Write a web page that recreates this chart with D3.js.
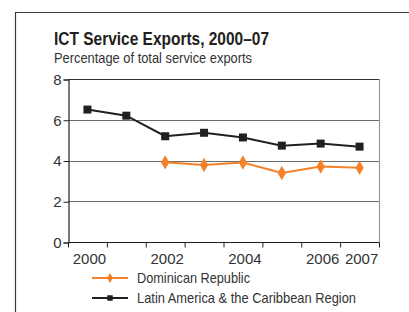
<!DOCTYPE html>
<html>
<head>
<meta charset="utf-8">
<script src="https://cdn.jsdelivr.net/npm/d3@7"></script>
<style>
  body { margin: 0; background: #fff; }
  svg { display: block; }
  text { font-family: "Liberation Sans Narrow", "Liberation Sans", sans-serif; fill: #231f20; }
</style>
</head>
<body>
<div id="chart"></div>
<script>
// data
const years = ['2000', '2001', '2002', '2003', '2004', '2005', '2006', '2007'];
const shownYears = ['2000', '2002', '2004', '2006', '2007'];
const dominican = [null, null, 3.91, 3.78, 3.9, 3.39, 3.7, 3.64];
const latinAmerica = [6.5, 6.2, 5.19, 5.36, 5.13, 4.73, 4.83, 4.68];
const yTicks = [0, 2, 4, 6, 8];

const width = 409, height = 312;
const plotL = 68, plotR = 379, plotT = 79, plotB = 242;
const orange = '#f5822a', black = '#231f20';

const svg = d3.select('#chart').append('svg')
  .attr('width', width)
  .attr('height', height);

// frame
svg.append('path')
  .attr('d', `M15.5,${height + 2}V12.5H${width + 2}`)
  .attr('fill', 'none')
  .attr('stroke', '#3a3a3a')
  .attr('stroke-width', 1.2);

svg.append('text')
  .attr('x', 54).attr('y', 45)
  .attr('font-size', 18).attr('font-weight', 'bold')
  .attr('textLength', 215).attr('lengthAdjust', 'spacingAndGlyphs')
  .text('ICT Service Exports, 2000–07');

svg.append('text')
  .attr('x', 54).attr('y', 63)
  .attr('font-size', 15)
  .attr('textLength', 198).attr('lengthAdjust', 'spacingAndGlyphs')
  .style('fill', '#333')
  .text('Percentage of total service exports');

const x = d3.scaleBand().domain(years).range([plotL, plotR]);
const y = d3.scaleLinear().domain([0, 8]).range([plotB, plotT]);
const cx = d => x(d) + x.bandwidth() / 2;

// grid
svg.append('g')
  .selectAll('line')
  .data(yTicks.filter(d => d > 0))
  .join('line')
    .attr('x1', plotL).attr('x2', plotR)
    .attr('y1', d => Math.round(y(d)) + 0.5).attr('y2', d => Math.round(y(d)) + 0.5)
    .attr('stroke', d => d === 8 ? '#333' : '#6d6d6d')
    .attr('stroke-width', 1.2);

svg.append('line')
  .attr('x1', plotR + 0.5).attr('x2', plotR + 0.5)
  .attr('y1', plotT).attr('y2', plotB)
  .attr('stroke', '#999').attr('stroke-width', 1.2);

// y axis
const yAxis = svg.append('g')
  .attr('transform', `translate(${plotL + 0.5},0.5)`)
  .call(d3.axisLeft(y).tickValues(yTicks).tickSize(5).tickPadding(2).tickFormat(d3.format('d')));
yAxis.select('.domain').attr('stroke', black).attr('stroke-width', 1.2);
yAxis.selectAll('.tick line').attr('stroke', black);
yAxis.selectAll('.tick text')
  .style('font-size', '15px').style('fill', '#333');

// x axis, ticks between categories
const xAxis = svg.append('g')
  .attr('transform', `translate(0,${Math.round(plotB) + 0.5})`);
xAxis.append('line')
  .attr('x1', plotL).attr('x2', plotR + 0.5)
  .attr('stroke', black).attr('stroke-width', 1.2);
xAxis.selectAll('line.tk')
  .data(years.concat(['end']))
  .join('line')
    .attr('class', 'tk')
    .attr('x1', (d, i) => plotL + i * x.bandwidth() + 0.5)
    .attr('x2', (d, i) => plotL + i * x.bandwidth() + 0.5)
    .attr('y1', 0).attr('y2', 5)
    .attr('stroke', black);
xAxis.selectAll('text')
  .data(shownYears)
  .join('text')
    .attr('x', d => cx(d) + 2)
    .attr('y', 21)
    .attr('text-anchor', 'middle')
    .style('font-size', '15px')
    .style('fill', '#333')
    .text(d => d);

// series
function drawSeries(values, color, shape, size) {
  const pts = years.map((yr, i) => ({ yr, v: values[i] })).filter(d => d.v != null);
  const line = d3.line().x(d => cx(d.yr)).y(d => y(d.v));
  svg.append('path')
    .datum(pts)
    .attr('d', line)
    .attr('fill', 'none')
    .attr('stroke', color)
    .attr('stroke-width', 2);
  svg.append('g')
    .selectAll('path')
    .data(pts)
    .join('path')
      .attr('transform', d => `translate(${cx(d.yr)},${y(d.v)})`)
      .attr('d', d3.symbol(shape, size))
      .attr('fill', color);
}
drawSeries(latinAmerica, black, d3.symbolSquare, 64);
drawSeries(dominican, orange, d3.symbolDiamond, 60);

// legend
const legend = [
  { name: 'Dominican Republic', color: orange, shape: d3.symbolDiamond, size: 30, w: 113 },
  { name: 'Latin America & the Caribbean Region', color: black, shape: d3.symbolSquare, size: 30, w: 219 }
];
const lg = svg.append('g')
  .selectAll('g')
  .data(legend)
  .join('g')
    .attr('transform', (d, i) => `translate(0,${278 + i * 20})`);
lg.append('line')
  .attr('x1', 92).attr('x2', 128)
  .attr('stroke', d => d.color).attr('stroke-width', 2);
lg.append('path')
  .attr('transform', 'translate(110,0)')
  .attr('d', d => d3.symbol(d.shape, d.size)())
  .attr('fill', d => d.color);
lg.append('text')
  .attr('x', 137).attr('y', 5)
  .attr('textLength', d => d.w).attr('lengthAdjust', 'spacingAndGlyphs')
  .style('font-size', '15px')
  .style('fill', '#333')
  .text(d => d.name);
</script>
</body>
</html>
